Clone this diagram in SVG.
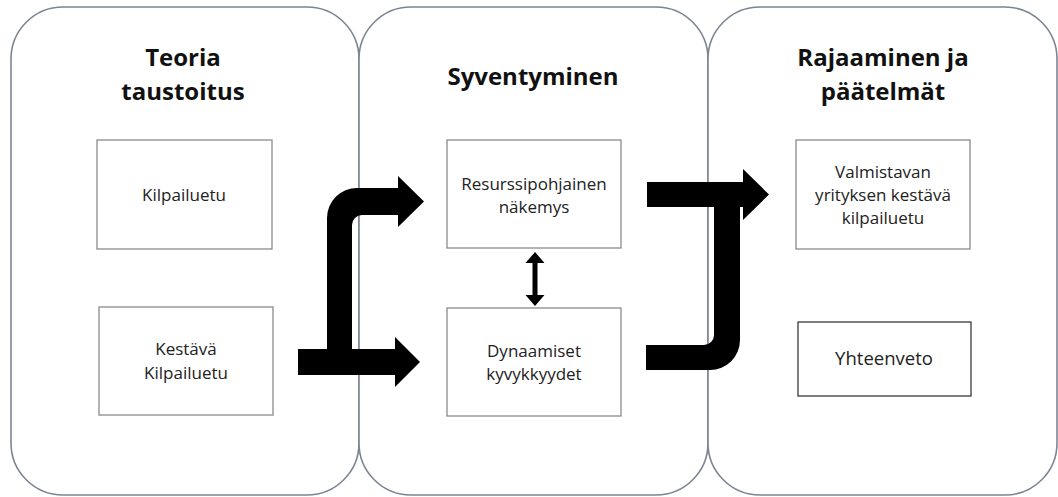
<svg xmlns="http://www.w3.org/2000/svg" width="1058" height="497" viewBox="0 0 1058 497">
<style>
.panel{fill:#fff;stroke:#7d8593;stroke-width:1.6}
.box{fill:#fff;stroke:#8a8a8a;stroke-width:1.3}
.box2{fill:#fff;stroke:#3a3a3a;stroke-width:1.3}
.title{font-family:"Open Sans","Liberation Sans",sans-serif;font-weight:bold;font-size:24px;fill:#111;text-anchor:middle}
.lbl{font-family:"Open Sans","Liberation Sans",sans-serif;font-size:17px;fill:#222;text-anchor:middle}
.arr{fill:#000}
</style>
<rect width="1058" height="497" fill="#fff"/>
<g id="panel1"><rect class="panel" x="11" y="7" width="348" height="488" rx="52" ry="52"/>
<text class="title" x="183" y="66">Teoria</text><text class="title" x="183" y="100">taustoitus</text></g>
<g id="panel2"><rect class="panel" x="359" y="7" width="349" height="488" rx="52" ry="52"/>
<text class="title" x="533" y="85">Syventyminen</text></g>
<g id="panel3"><rect class="panel" x="708" y="7" width="349" height="488" rx="52" ry="52"/>
<text class="title" x="883" y="66">Rajaaminen ja</text><text class="title" x="883" y="100">päätelmät</text></g>
<g id="kilpailuetu"><rect class="box" x="97" y="140" width="175" height="109"/>
<text class="lbl" x="184" y="201">Kilpailuetu</text></g>
<g id="kestava"><rect class="box" x="99" y="307" width="174" height="108"/>
<text class="lbl" x="186" y="355">Kestävä</text><text class="lbl" x="186" y="379">Kilpailuetu</text></g>
<g id="resurssi"><rect class="box" x="447" y="140" width="174" height="108"/>
<text class="lbl" x="534" y="190">Resurssipohjainen</text><text class="lbl" x="534" y="213">näkemys</text></g>
<g id="dynaamiset"><rect class="box" x="447" y="308" width="174" height="108"/>
<text class="lbl" x="534" y="357">Dynaamiset</text><text class="lbl" x="534" y="380">kyvykkyydet</text></g>
<g id="valmistavan"><rect class="box" x="796" y="140" width="174" height="109"/>
<text class="lbl" x="883" y="178">Valmistavan</text><text class="lbl" x="883" y="201">yrityksen kestävä</text><text class="lbl" x="883" y="224">kilpailuetu</text></g>
<g id="yhteenveto"><rect class="box2" x="798" y="322" width="173" height="74"/>
<text class="lbl" x="884" y="365" style="font-size:18.5px">Yhteenveto</text></g>
<g id="connectors">
<path class="arr" d="M298,349 H395 V337 L420,362 L395,387 V375 H298 Z"/>
<path class="arr" d="M327,362 V218 A30,30 0 0 1 357,188 H398 V176 L424,201.5 L398,227 V215 H362 A10,10 0 0 0 352,225 V362 Z"/>
<path class="arr" d="M647,182 H743 V169 L769,194.5 L743,220 V207 H647 Z"/>
<path class="arr" d="M646,345 H704 A10,10 0 0 0 714,335 V195 H740 V340 A30,30 0 0 1 710,370 H646 Z"/>
<path class="arr" d="M535,252 L544.5,263 H537.5 V295 H544.5 L535,306 L525.5,295 H532.5 V263 H525.5 Z"/>
</g>
</svg>
